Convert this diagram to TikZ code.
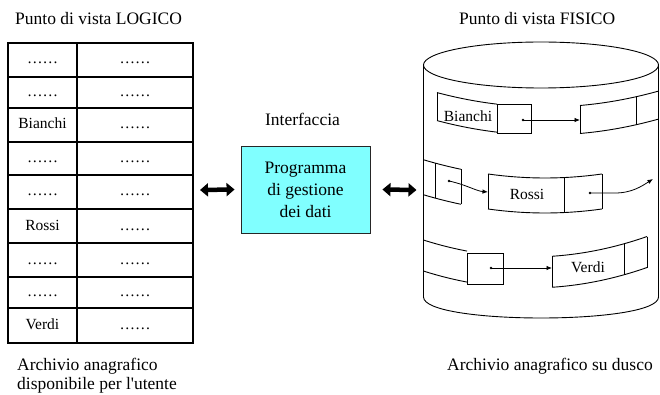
\documentclass[tikz,border=0pt]{standalone}
\usepackage{fontspec}
\setmainfont{Liberation Serif}
\usetikzlibrary{arrows.meta}
\definecolor{progcyan}{RGB}{128,255,255}

% curved edge of a record band on the disk: y = ymid - a (x - c)^2
\newcommand\bandarc[5]{plot[domain=#4:#5,samples=16] (\x,{#1-#3*(\x-#2)*(\x-#2)})}
\newcommand\bpt[4]{(#4,{#1-#3*(#4-#2)*(#4-#2)})}

\tikzset{
  lbl/.style={font=\fontsize{17.5}{19}\selectfont, inner sep=0pt},
  cell/.style={font=\fontsize{15.5}{17}\selectfont, inner sep=0pt, anchor=base},
  tablerule/.style={line width=1.2pt},
  progbox/.style={draw=black!85, line width=0.9pt, fill=progcyan,
    minimum width=129pt, minimum height=87pt, inner sep=0pt, align=center,
    font=\fontsize{17.5}{22}\selectfont},
  bigarrow/.style={line width=4.5pt,
    {Triangle[length=8pt,width=13pt]}-{Triangle[length=8pt,width=13pt]}},
  disk/.style={line width=0.9pt},
  ptr/.style={line width=0.8pt, -{Latex[length=5.5pt,width=4.5pt]}},
  ptrdot/.style={circle, fill, inner sep=0pt, minimum size=2.8pt},
}

\begin{document}
\begin{tikzpicture}[x=1pt,y=-1pt]
\useasboundingbox (0,0) rectangle (660,395);

% ---------- logical view: the table ----------
\node[lbl, anchor=base west] (logtitle) at (15,25) {Punto di vista LOGICO};
\draw[tablerule] (8,43) rectangle (193,343);
\foreach \yy in {77,108,142,175,209,243,277,308}
  \draw[tablerule] (8,\yy) -- (193,\yy);
\draw[tablerule] (77,43) -- (77,343);
\foreach \yc/\txt [count=\i] in {60/……, 92.5/……, 125/Bianchi, 158.5/……,
    192/……, 226/Rossi, 260/……, 292.5/……, 325.5/Verdi}{
  \node[cell] (k\i) at (42.5,\yc+4) {\txt};
  \node[cell] (v\i) at (135,\yc+4) {……};
}
\node[lbl, anchor=base west] (logcap1) at (17,370) {Archivio anagrafico};
\node[lbl, anchor=base west] (logcap2) at (17,389) {disponibile per l\textquotesingle utente};
\coordinate (tblR) at (193,190);

% ---------- interface ----------
\node[lbl, anchor=base] (iftitle) at (302.5,126) {Interfaccia};
\node[progbox] (prog) at (305.5,189.5) {Programma\\di gestione\\dei dati};

% ---------- physical view: the disk ----------
\node[lbl, anchor=base west] (phystitle) at (459,25) {Punto di vista FISICO};
\draw[disk] (541,65) ellipse [x radius=117.5, y radius=23];
\draw[disk] (423.5,65) -- (423.5,297)
  .. controls (423.5,325) and (658.5,325) .. (658.5,297) -- (658.5,65);
\coordinate (cylL) at (423.5,190);
\node[lbl, anchor=base west] (physcap) at (447,370) {Archivio anagrafico su dusco};

% band 1: Bianchi
\draw[disk] \bpt{107}{545}{0.00124}{437} -- \bpt{135}{545}{0.00124}{437};
\draw[disk] \bandarc{107}{545}{0.00124}{437}{497};
\draw[disk] \bandarc{135}{545}{0.00124}{437}{497};
\node[cell] (bianchi) at (468,122) {Bianchi};
\draw[disk] (497,104) rectangle (531,133);
\draw[disk] \bpt{107}{545}{0.00124}{580} -- \bpt{135}{545}{0.00124}{580};
\draw[disk] \bandarc{107}{545}{0.00124}{580}{658};
\draw[disk] \bandarc{135}{545}{0.00124}{580}{658};
\draw[disk] \bpt{107}{545}{0.00124}{636} -- \bpt{135}{545}{0.00124}{636};
\draw[disk] \bpt{107}{545}{0.00124}{658} -- \bpt{135}{545}{0.00124}{658};
\node[ptrdot] (d1) at (523,120) {};
\coordinate (t1) at (580,120);
\draw[ptr] (d1.center) -- (t1);

% band 2: Rossi
\draw[disk] \bandarc{178}{545}{0.00124}{423.5}{461};
\draw[disk] \bandarc{213}{545}{0.00124}{423.5}{461};
\draw[disk] \bpt{178}{545}{0.00124}{435} -- \bpt{213}{545}{0.00124}{435};
\draw[disk] \bpt{178}{545}{0.00124}{461} -- \bpt{213}{545}{0.00124}{461};
\draw[disk] \bpt{178}{545}{0.00124}{488} -- \bpt{213}{545}{0.00124}{488};
\draw[disk] \bandarc{178}{545}{0.00124}{488}{602};
\draw[disk] \bandarc{213}{545}{0.00124}{488}{602};
\draw[disk] \bpt{178}{545}{0.00124}{564} -- \bpt{213}{545}{0.00124}{564};
\draw[disk] \bpt{178}{545}{0.00124}{602} -- \bpt{213}{545}{0.00124}{602};
\node[cell] (rossi) at (527,200) {Rossi};
\node[ptrdot] (d2) at (449,181) {};
\coordinate (t2) at (488,192);
\draw[ptr] (d2.center) .. controls (467,185) and (476,191) .. (t2);
\node[ptrdot] (d3) at (590,193) {};
\coordinate (t3) at (653,179);
\draw[ptr] (d3.center) -- (615,193) .. controls (632,193) and (642,186) .. (t3);

% band 3: Verdi
\draw[disk] \bandarc{257}{530}{0.0015}{423.5}{467};
\draw[disk] \bandarc{288}{530}{0.0015}{423.5}{467};
\draw[disk] (467,253) rectangle (503,284);
\draw[disk] \bpt{257}{530}{0.0015}{552} -- \bpt{288}{530}{0.0015}{552};
\draw[disk] \bandarc{257}{530}{0.0015}{552}{647};
\draw[disk] \bandarc{288}{530}{0.0015}{552}{647};
\draw[disk] \bpt{257}{530}{0.0015}{624} -- \bpt{288}{530}{0.0015}{624};
\draw[disk] \bpt{257}{530}{0.0015}{647} -- \bpt{288}{530}{0.0015}{647};
\node[cell] (verdi) at (588,272) {Verdi};
\node[ptrdot] (d4) at (491,268) {};
\coordinate (t4) at (552,268);
\draw[ptr] (d4.center) -- (t4);

% ---------- data flow arrows ----------
\draw[bigarrow] ([xshift=7pt]tblR) -- ([xshift=-6pt]prog.west);
\draw[bigarrow] ([xshift=12pt]prog.east) -- ([xshift=-7pt]cylL);
\end{tikzpicture}
\end{document}
